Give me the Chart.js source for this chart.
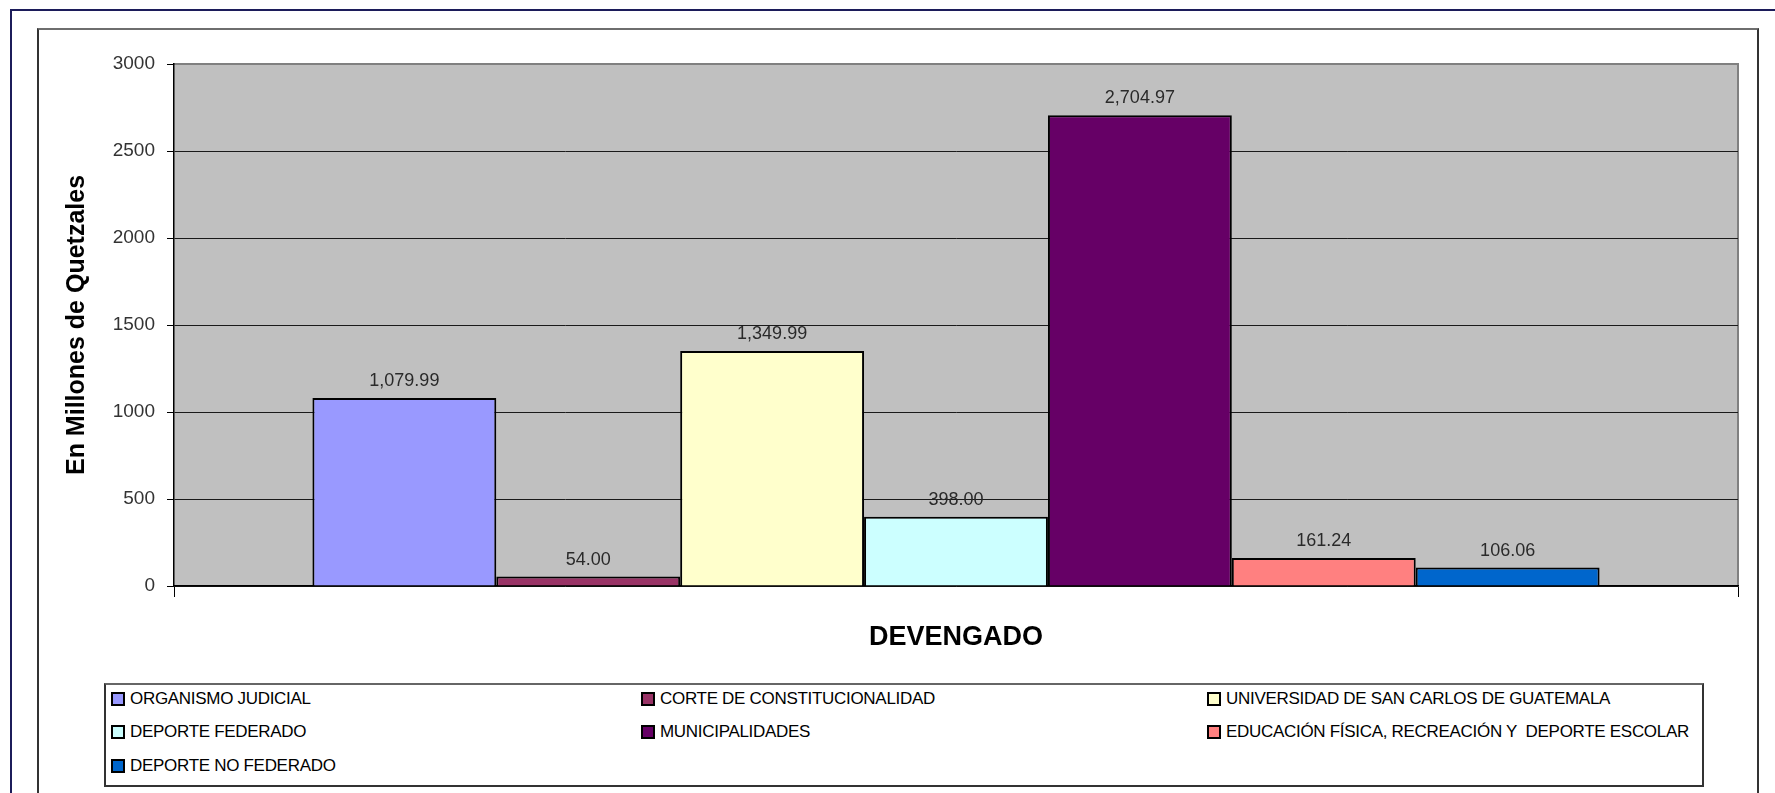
<!DOCTYPE html>
<html>
<head>
<meta charset="utf-8">
<title>Devengado</title>
<script src="https://cdn.jsdelivr.net/npm/chart.js@4.4.1/dist/chart.umd.min.js"></script>
<style>
  html, body { margin: 0; padding: 0; background: #fff; overflow: hidden; }
  body { width: 1775px; height: 793px; position: relative; font-family: "Liberation Sans", Arial, sans-serif; }
  .frame-outer { position: absolute; left: 10px; top: 9px; width: 1800px; height: 900px; border: 2px solid #1c1c5a; }
  .frame-inner { position: absolute; left: 37px; top: 28px; width: 1718px; height: 900px; border: 2px solid #333; border-top-color: #6e6e6e; }
  #wrap { position: absolute; left: 0; top: 0; width: 1775px; height: 793px; }
  .legend { position: absolute; left: 104px; top: 683px; width: 1596px; height: 100px; border: 2px solid #333; border-top-color: #666; background: #fff; }
  .legend-item { position: absolute; height: 16px; display: flex; align-items: center; white-space: pre; }
  .legend-item i { display: block; width: 10px; height: 10px; border: 2px solid #000; margin-right: 5px; }
  .legend-item span { font-size: 17px; color: #000; letter-spacing: -0.3px; }
</style>
</head>
<body>
<div class="frame-outer"></div>
<div class="frame-inner"></div>
<div id="wrap"><canvas id="chart"></canvas></div>
<div class="legend" id="legend"></div>
<script>
(function () {
  var categories = [""];
  var seriesNames = [
    "ORGANISMO JUDICIAL",
    "CORTE DE CONSTITUCIONALIDAD",
    "UNIVERSIDAD DE SAN CARLOS DE GUATEMALA",
    "DEPORTE FEDERADO",
    "MUNICIPALIDADES",
    "EDUCACIÓN FÍSICA, RECREACIÓN Y  DEPORTE ESCOLAR",
    "DEPORTE NO FEDERADO"
  ];
  var seriesValues = [1079.99, 54.00, 1349.99, 398.00, 2704.97, 161.24, 106.06];
  var seriesColors = ["#9999FF", "#993366", "#FFFFCC", "#CCFFFF", "#660066", "#FF8080", "#0066CC"];
  var yTicks = [0, 500, 1000, 1500, 2000, 2500, 3000];

  // legend layout (page pixels)
  var legendCols = [111, 641, 1207];
  var legendRows = [699, 732, 766];
  var legendBox = { left: 106, top: 685 };

  var legendEl = document.getElementById("legend");
  seriesNames.forEach(function (name, i) {
    var item = document.createElement("div");
    item.className = "legend-item";
    item.style.left = (legendCols[i % 3] - legendBox.left) + "px";
    item.style.top = (legendRows[Math.floor(i / 3)] - 8 - legendBox.top) + "px";
    var sw = document.createElement("i");
    sw.style.background = seriesColors[i];
    var tx = document.createElement("span");
    tx.textContent = name;
    item.appendChild(sw);
    item.appendChild(tx);
    legendEl.appendChild(item);
  });

  Chart.defaults.font.family = '"Liberation Sans", Arial, sans-serif';

  var plotBackground = {
    id: "plotBackground",
    beforeDraw: function (chart) {
      var a = chart.chartArea, ctx = chart.ctx;
      ctx.save();
      ctx.fillStyle = "#C0C0C0";
      ctx.fillRect(a.left, a.top, a.right - a.left, a.bottom - a.top);
      ctx.strokeStyle = "#808080";
      ctx.lineWidth = 2;
      ctx.beginPath();
      ctx.moveTo(a.left, a.top);
      ctx.lineTo(a.right, a.top);
      ctx.lineTo(a.right, a.bottom);
      ctx.stroke();
      ctx.restore();
    }
  };

  var valueLabels = {
    id: "valueLabels",
    afterDatasetsDraw: function (chart) {
      var ctx = chart.ctx;
      ctx.save();
      ctx.font = '18px "Liberation Sans", Arial, sans-serif';
      ctx.fillStyle = "#2a2a2a";
      ctx.textAlign = "center";
      ctx.textBaseline = "middle";
      chart.data.datasets.forEach(function (ds, i) {
        var meta = chart.getDatasetMeta(i);
        meta.data.forEach(function (bar, j) {
          var v = ds.data[j];
          var s = v.toLocaleString("en-US", { minimumFractionDigits: 2, maximumFractionDigits: 2 });
          ctx.fillText(s, bar.x, bar.y - 17);
        });
      });
      ctx.restore();
    }
  };

  var datasets = seriesNames.map(function (name, i) {
    return {
      label: name,
      data: [seriesValues[i]],
      backgroundColor: seriesColors[i],
      borderColor: "#000",
      borderWidth: 2,
      borderSkipped: "start",
      categoryPercentage: 0.823,
      barPercentage: 1.0
    };
  });

  new Chart(document.getElementById("chart").getContext("2d"), {
    type: "bar",
    data: { labels: categories, datasets: datasets },
    plugins: [plotBackground, valueLabels],
    options: {
      responsive: true,
      maintainAspectRatio: false,
      animation: false,
      layout: { padding: { left: 0, top: 64, right: 37, bottom: 137 } },
      scales: {
        x: {
          afterFit: function (s) { s.height = 70; },
          ticks: { display: false },
          grid: { display: true, drawOnChartArea: false, drawTicks: true, tickLength: 11, color: "#000" },
          border: { display: true, color: "#000", width: 1.5 },
          title: {
            display: true,
            text: "DEVENGADO",
            color: "#000",
            font: { size: 27, weight: "bold" },
            padding: { top: 0, bottom: 2 }
          }
        },
        y: {
          min: yTicks[0],
          max: yTicks[yTicks.length - 1],
          afterFit: function (s) { s.width = 174; },
          afterBuildTicks: function (s) {
            s.ticks = yTicks.map(function (v) { return { value: v }; });
          },
          ticks: {
            color: "#333",
            font: { size: 19 },
            padding: 12,
            callback: function (v) { return String(v); }
          },
          grid: {
            color: function (c) { return c.tick && c.tick.value === 3000 ? "#808080" : "#1a1a1a"; },
            tickColor: "#000",
            lineWidth: 1,
            tickLength: 7
          },
          border: { display: true, color: "#000", width: 1.5 },
          title: {
            display: true,
            text: "En Millones de Quetzales",
            color: "#000",
            font: { size: 25, weight: "bold" },
            padding: { top: 62, bottom: 0 }
          }
        }
      },
      plugins: {
        legend: { display: false },
        tooltip: { enabled: false }
      }
    }
  });
})();
</script>
</body>
</html>
